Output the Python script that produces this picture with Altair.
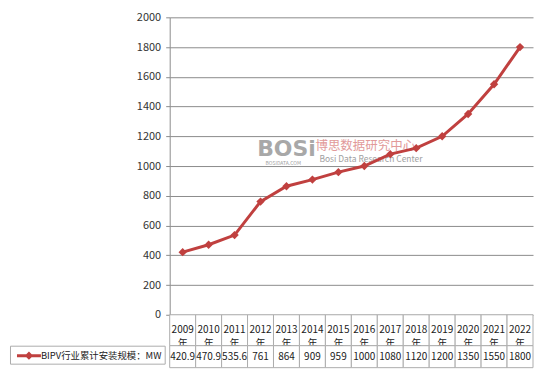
import altair as alt
import pandas as pd

year_labels = ["2009", "2010", "2011", "2012", "2013", "2014", "2015",
               "2016", "2017", "2018", "2019", "2020", "2021", "2022"]
values = [420.9, 470.9, 535.6, 761, 864, 909, 959, 1000, 1080, 1120, 1200, 1350, 1550, 1800]
value_labels = ["420.9", "470.9", "535.6", "761", "864", "909", "959",
                "1000", "1080", "1120", "1200", "1350", "1550", "1800"]
series_name = "BIPV行业累计安装规模：MW"
y_ticks = [0, 200, 400, 600, 800, 1000, 1200, 1400, 1600, 1800, 2000]

RED = "#C0403F"
GRID = "#8C8C8C"
TABLE = "#ADADAD"
FONT = "Noto Sans CJK SC"
W = 364
H = 298
HDR_H = 31
VAL_H = 22

df = pd.DataFrame({
    "year": [y + "年" for y in year_labels],
    "header": [y + "\n年" for y in year_labels],
    "value": values,
    "label": value_labels,
    "series": series_name,
})
years = list(df["year"])

legend_path = "M-2,-0.25L2,-0.25L2,0.25L-2,0.25Z M0,-0.7L0.7,0L0,0.7L-0.7,0Z"

base = alt.Chart(df).encode(
    x=alt.X("year:N", sort=years, scale=alt.Scale(type="point", padding=0.5), axis=None),
    y=alt.Y("value:Q", scale=alt.Scale(domain=[0, 2000], nice=False),
            axis=alt.Axis(values=y_ticks, format="d", grid=True, gridColor=GRID,
                          domainColor=GRID, tickColor=GRID, tickSize=4, labelPadding=5,
                          labelFont=FONT, labelFontSize=11, labelColor="#333333",
                          title=None)),
)

line = base.mark_line(color=RED, strokeWidth=3)
points = base.mark_point(shape="diamond", filled=True, size=70, opacity=1).encode(
    color=alt.Color("series:N", scale=alt.Scale(range=[RED]),
                    legend=alt.Legend(orient="none", legendX=-160, legendY=H + HDR_H,
                                      title=None, strokeColor=TABLE, fillColor="white",
                                      padding=3, symbolType=legend_path, symbolSize=144,
                                      symbolOffset=9, labelOffset=5,
                                      labelFont=FONT, labelFontSize=9.4,
                                      labelColor="#222222", labelLimit=300))
)

wm1 = alt.Chart(pd.DataFrame({"t": ["BOSi"]})).mark_text(
    fontSize=22, fontWeight="bold", font="DejaVu Sans", color="#A8A8A8",
    align="center", baseline="middle"
).encode(text="t:N", x=alt.value(117), y=alt.value(132))
wm2 = alt.Chart(pd.DataFrame({"t": ["博思数据研究中心"]})).mark_text(
    fontSize=12.5, font=FONT, color="#E29A9A", align="left", baseline="middle"
).encode(text="t:N", x=alt.value(146), y=alt.value(129))
wm3 = alt.Chart(pd.DataFrame({"t": ["Bosi Data Research Center"]})).mark_text(
    fontSize=8.5, font=FONT, color="#A0A0A0", align="left", baseline="middle"
).encode(text="t:N", x=alt.value(150), y=alt.value(142))
wm4 = alt.Chart(pd.DataFrame({"t": ["BOSIDATA.COM"]})).mark_text(
    fontSize=5, font=FONT, color="#A0A0A0", align="left", baseline="middle"
).encode(text="t:N", x=alt.value(96), y=alt.value(146))

top = alt.layer(wm1, wm2, wm3, wm4, line, points).properties(width=W, height=H)

band_x = alt.X("year:N", sort=years,
               scale=alt.Scale(type="band", paddingInner=0, paddingOuter=0), axis=None)

hdr_base = alt.Chart(df).encode(x=band_x)
header = alt.layer(
    hdr_base.mark_rect(fill="white", stroke=TABLE, strokeWidth=1),
    hdr_base.mark_text(lineBreak="\n", lineHeight=14, font=FONT, fontSize=10,
                       color="#222222").encode(text="header:N"),
).properties(width=W, height=HDR_H)

val_base = alt.Chart(df).encode(x=band_x)
value_row = alt.layer(
    val_base.mark_rect(fill="white", stroke=TABLE, strokeWidth=1),
    val_base.mark_text(font=FONT, fontSize=10, color="#222222").encode(text="label:N"),
).properties(width=W, height=VAL_H)

chart = alt.vconcat(top, header, value_row, spacing=0, bounds="flush").properties(
    padding={"left": 1, "top": 3, "right": 0, "bottom": 0}
).configure_view(stroke=None)

chart.save("out.html", embed_options={"renderer": "svg", "actions": False})
